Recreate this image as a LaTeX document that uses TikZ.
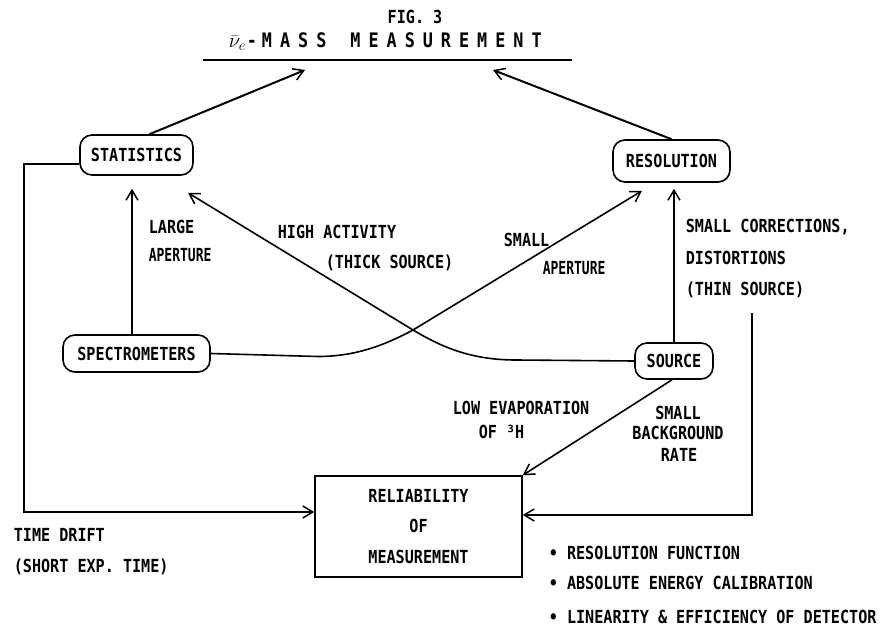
\documentclass[tikz,border=0pt]{standalone}
\usepackage{fontspec}
\usepackage{graphicx}
\setmainfont[FakeStretch=0.84]{DejaVu Sans Mono}
\usetikzlibrary{arrows.meta,calc}
\newcommand\ls{\hspace{8pt}}
\begin{document}
\begin{tikzpicture}[x=1pt,y=-1pt,line width=1.6pt,
  every node/.style={font=\fontsize{18}{21}\selectfont\bfseries},
  arr/.style={-{Straight Barb[length=10pt,width=12pt,line width=1.5pt]}},
  rbox/.style={draw,rounded corners=12pt,inner sep=0pt,line width=1.6pt},
  lbl/.style={anchor=west,inner sep=0pt},
  clbl/.style={inner sep=0pt}]
\useasboundingbox[fill=white] (0,0) rectangle (882,628);

% title
\node[clbl] (fig) at (415,17) {FIG. 3};
\node[lbl] (title) at (228,42) {\fontsize{20}{22}\selectfont$\bar{\nu}_e$\hspace{1pt}-\hspace{5pt}M\ls A\ls S\ls S\hspace{24pt}M\ls E\ls A\ls S\ls U\ls R\ls E\ls M\ls E\ls N\ls T};
\draw[line width=1.8pt] (203,60) -- (572,60);
\coordinate (t1) at (305,70);
\coordinate (t2) at (493,70);

% boxes
\node[rbox,minimum width=113pt,minimum height=40pt] (stat) at (136.5,155) {STATISTICS};
\node[rbox,minimum width=117pt,minimum height=42pt] (res) at (671.5,161) {RESOLUTION};
\node[rbox,minimum width=147pt,minimum height=37pt] (spec) at (136.5,353.5) {SPECTROMETERS};
\node[rbox,minimum width=78pt,minimum height=36pt] (src) at (674,361) {SOURCE};
\node[draw,minimum width=207pt,minimum height=101pt,inner sep=0pt,align=center,
      font=\fontsize{18}{30.5}\selectfont\bfseries] (rel) at (418.5,526.5) {RELIABILITY\\OF\\MEASUREMENT};

% connectors
\draw[arr,line width=2pt] ([xshift=13pt]stat.north) -- (t1);
\draw[arr,line width=2pt] (res.north) -- (t2);
\draw[arr] ([xshift=-4.5pt]spec.north) -- ([xshift=-4.5pt,yshift=-13pt]stat.south);
\draw[arr] (src.north) -- ([xshift=2.5pt,yshift=-6pt]res.south);
\coordinate (cross) at (413,330);
\draw[arr] (spec.east) -- ++(107,3) .. controls +(38,0) and +(-28,15) .. (cross)
  -- ([xshift=-29.5pt,yshift=-8pt]res.south);
\draw[arr] (src.west) -- ++(-118,-1) .. controls +(-47,0) and +(27,16) .. (cross)
  -- ([xshift=51.5pt,yshift=-17pt]stat.south);
\draw[arr] ([yshift=-9pt]stat.west) -- ++(-55,0) |- ([yshift=14.5pt]rel.west);
\coordinate (r0) at (752,313);
\draw[arr] (r0) |- ([yshift=11.5pt]rel.east);
\draw[arr] ([xshift=-2pt]src.south) -- (rel.north east);

% labels
\node[lbl] (l1) at (148,227) {LARGE};
\node[lbl] (l2) at (148,255) {\scalebox{0.86}[1]{APERTURE}};
\node[lbl] (l3) at (277,232) {HIGH ACTIVITY};
\node[lbl] (l4) at (325,263) {(THICK SOURCE)};
\node[lbl] (l5) at (503,240) {SMALL};
\node[lbl] (l6) at (542,268) {\scalebox{0.86}[1]{APERTURE}};
\node[lbl] (l7) at (685,227) {SMALL CORRECTIONS,};
\node[lbl] (l8) at (685,258) {DISTORTIONS};
\node[lbl] (l9) at (685,290) {(THIN SOURCE)};
\node[lbl] (l10) at (452,408) {LOW EVAPORATION};
\node[lbl] (l11) at (478,432) {OF ³H};
\node[clbl] (l12) at (678,413) {SMALL};
\node[clbl] (l13) at (678,433) {BACKGROUND};
\node[clbl] (l14) at (679,455) {RATE};
\node[lbl] (l15) at (13,535) {TIME DRIFT};
\node[lbl] (l16) at (13,567) {(SHORT EXP. TIME)};
\node[lbl] (b1) at (548,553) {• RESOLUTION FUNCTION};
\node[lbl] (b2) at (548,583) {• ABSOLUTE ENERGY CALIBRATION};
\node[lbl] (b3) at (548,617) {• LINEARITY \& EFFICIENCY OF DETECTOR};
\end{tikzpicture}
\end{document}
